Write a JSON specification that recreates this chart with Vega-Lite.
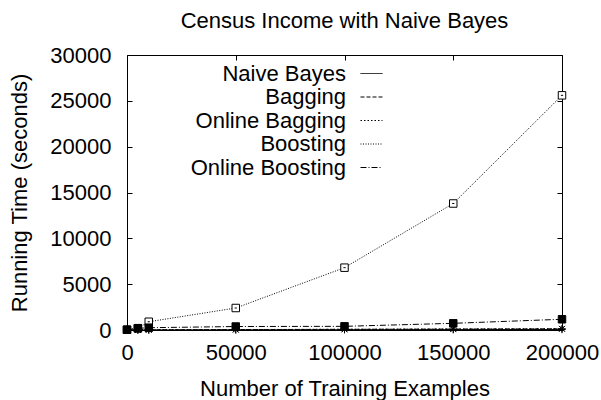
{
  "$schema": "https://vega.github.io/schema/vega-lite/v6.json",
  "width": 435,
  "height": 275,
  "autosize": {"type": "none"},
  "padding": {"left": 127, "top": 55, "right": 39, "bottom": 70},
  "background": "white",
  "config": {
    "view": {"stroke": "black", "strokeWidth": 1},
    "font": "Liberation Sans",
    "axis": {
      "grid": false,
      "domain": false,
      "labelFont": "Liberation Sans",
      "labelFontSize": 22,
      "labelColor": "black",
      "labelFlush": false,
      "labelOverlap": false,
      "titleFont": "Liberation Sans",
      "titleFontSize": 22,
      "titleFontWeight": "normal",
      "titleColor": "black",
      "tickColor": "black",
      "tickSize": -5,
      "tickWidth": 1
    }
  },
  "title": {
    "text": "Census Income with Naive Bayes",
    "font": "Liberation Sans",
    "fontSize": 22,
    "fontWeight": "normal",
    "color": "black",
    "anchor": "middle",
    "offset": 11
  },
  "data": {
    "values": [
      {"n": 0, "series": "Naive Bayes", "t": 0},
      {"n": 5000, "series": "Naive Bayes", "t": 2},
      {"n": 10000, "series": "Naive Bayes", "t": 4},
      {"n": 50000, "series": "Naive Bayes", "t": 15},
      {"n": 100000, "series": "Naive Bayes", "t": 30},
      {"n": 150000, "series": "Naive Bayes", "t": 45},
      {"n": 200000, "series": "Naive Bayes", "t": 60},
      {"n": 0, "series": "Bagging", "t": 0},
      {"n": 5000, "series": "Bagging", "t": 8},
      {"n": 10000, "series": "Bagging", "t": 15},
      {"n": 50000, "series": "Bagging", "t": 40},
      {"n": 100000, "series": "Bagging", "t": 70},
      {"n": 150000, "series": "Bagging", "t": 100},
      {"n": 200000, "series": "Bagging", "t": 130},
      {"n": 0, "series": "Online Bagging", "t": 0},
      {"n": 5000, "series": "Online Bagging", "t": 7},
      {"n": 10000, "series": "Online Bagging", "t": 14},
      {"n": 50000, "series": "Online Bagging", "t": 50},
      {"n": 100000, "series": "Online Bagging", "t": 80},
      {"n": 150000, "series": "Online Bagging", "t": 110},
      {"n": 200000, "series": "Online Bagging", "t": 140},
      {"n": 0, "series": "Boosting", "t": 30},
      {"n": 5000, "series": "Boosting", "t": 200},
      {"n": 10000, "series": "Boosting", "t": 900},
      {"n": 50000, "series": "Boosting", "t": 2400},
      {"n": 100000, "series": "Boosting", "t": 6800},
      {"n": 150000, "series": "Boosting", "t": 13800},
      {"n": 200000, "series": "Boosting", "t": 25600},
      {"n": 0, "series": "Online Boosting", "t": 30},
      {"n": 5000, "series": "Online Boosting", "t": 180},
      {"n": 10000, "series": "Online Boosting", "t": 250},
      {"n": 50000, "series": "Online Boosting", "t": 380},
      {"n": 100000, "series": "Online Boosting", "t": 400},
      {"n": 150000, "series": "Online Boosting", "t": 730},
      {"n": 200000, "series": "Online Boosting", "t": 1170}
    ]
  },
  "layer": [
    {
      "mark": {"type": "line", "color": "black", "strokeWidth": 1},
      "encoding": {
        "x": {
          "field": "n", "type": "quantitative",
          "scale": {"domain": [0, 200000], "nice": false, "zero": false},
          "axis": {"orient": "top", "labels": false, "title": null, "values": [0, 50000, 100000, 150000, 200000]}
        },
        "y": {
          "field": "t", "type": "quantitative",
          "scale": {"domain": [0, 30000], "nice": false},
          "axis": {"orient": "right", "labels": false, "title": null, "values": [0, 5000, 10000, 15000, 20000, 25000, 30000]}
        },
        "strokeDash": {
          "field": "series", "type": "nominal",
          "scale": {
            "domain": ["Naive Bayes", "Bagging", "Online Bagging", "Boosting", "Online Boosting"],
            "range": [[1, 0], [4, 2], [1.5, 2], [1, 1.5], [6, 2, 1, 2]]
          },
          "legend": {
            "orient": "none",
            "legendX": 233,
            "legendY": 7,
            "title": null,
            "padding": 0,
            "labelAlign": "right",
            "labelOffset": -37,
            "labelFont": "Liberation Sans",
            "labelFontSize": 22,
            "labelColor": "black",
            "labelLimit": 400,
            "symbolType": "stroke",
            "symbolSize": 484,
            "symbolStrokeWidth": 1,
            "rowPadding": 0.5
          }
        },
        "order": {"field": "n", "type": "quantitative"}
      }
    },
    {
      "mark": {"type": "point", "filled": false, "stroke": "black", "strokeWidth": 1, "size": 56, "opacity": 1},
      "encoding": {
        "x": {
          "field": "n", "type": "quantitative",
          "axis": {
            "orient": "bottom", "values": [0, 50000, 100000, 150000, 200000], "format": "d",
            "title": "Number of Training Examples", "labelPadding": 17, "titlePadding": 15
          }
        },
        "y": {
          "field": "t", "type": "quantitative",
          "axis": {
            "orient": "left", "values": [0, 5000, 10000, 15000, 20000, 25000, 30000], "format": "d",
            "title": "Running Time (seconds)", "labelPadding": 21, "titlePadding": 18
          }
        },
        "fill": {
          "condition": [
            {"test": "datum.series === 'Online Boosting'", "value": "black"}
          ],
          "value": "white"
        },
        "shape": {
          "condition": [
            {"test": "datum.series === 'Naive Bayes'", "value": "M-1,0H1M0,-1V1"},
            {"test": "datum.series === 'Bagging'", "value": "M-0.8,-0.8L0.8,0.8M-0.8,0.8L0.8,-0.8"},
            {"test": "datum.series === 'Online Bagging'", "value": "M-1,0H1M0,-1V1M-0.7,-0.7L0.7,0.7M-0.7,0.7L0.7,-0.7"},
            {"test": "datum.series === 'Boosting'", "value": "M-1,-1H1V1H-1ZM-0.3,0H0.3"}
          ],
          "value": "M-1,-1H1V1H-1Z"
        }
      }
    }
  ],
  "resolve": {"axis": {"x": "independent", "y": "independent"}}
}
